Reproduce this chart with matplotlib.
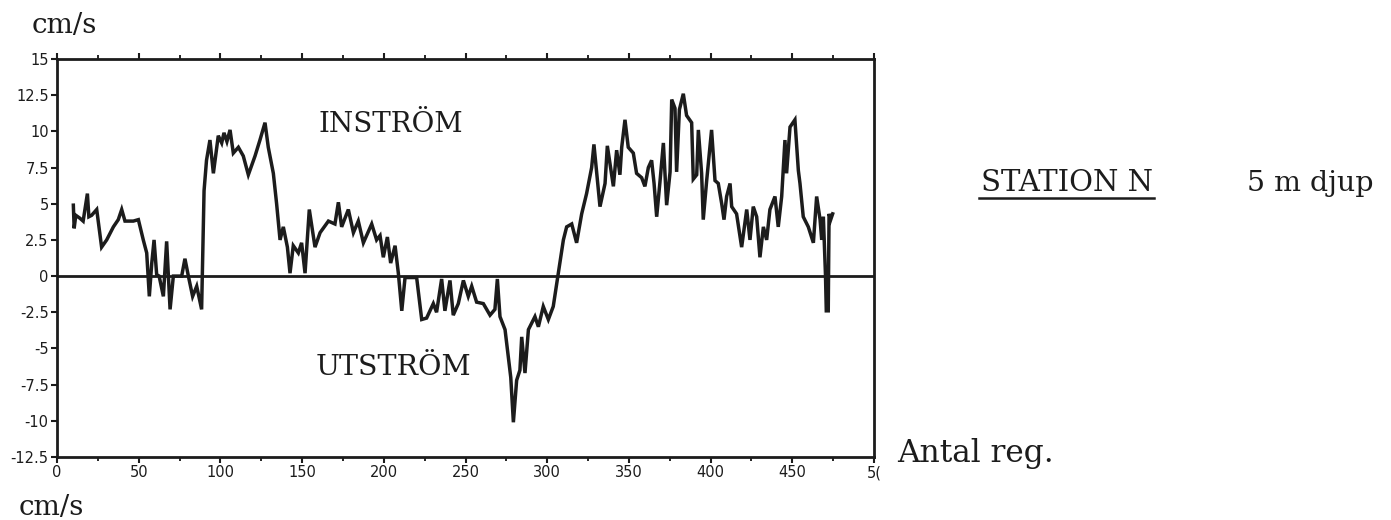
import matplotlib
matplotlib.use("Agg")
import matplotlib.pyplot as plt
from matplotlib.lines import Line2D
import numpy as np

# ---- data ----
antal_reg = [10.0, 10.5, 11.5, 14, 16, 18.6, 19.5, 21.2, 24.3, 27.3, 30.4, 34.5, 37.5, 39.6, 41.6,
             46.7, 49.8, 52.8, 54.9, 56.5, 58.0, 59.4, 61.0, 62.5, 65.1, 67.1, 69.2, 71.2, 76.3,
             78.3, 80.4, 83.0, 85.5, 88.5, 90.0, 91.5, 93.6, 95.7, 98.7, 100.8, 102.2, 104,
             105.9, 107.9, 111.0, 114.0, 117.1, 121.2, 124.2, 127.3, 129.3, 132.4, 134.4, 136.5,
             138.5, 141.0, 142.6, 144.6, 147.7, 149.7, 151.8, 154.4, 157.9, 161.0, 166.1, 170.1,
             172.2, 174.2, 178.3, 181.4, 184.4, 187.5, 192.6, 195.6, 197.7, 199.7, 202.2, 204.2,
             206.9, 208.9, 211.0, 213.0, 220.1, 223.2, 226.2, 230.3, 232.3, 235.4, 237.4, 240.5,
             242.5, 245.6, 248.7, 251.7, 253.8, 256.8, 260.9, 265.0, 268.0, 269.5, 271.1, 274.2,
             276.2, 277.7, 279.3, 281.3, 283.3, 284.4, 286.4, 288.5, 292.5, 294.6, 297.6, 300.7,
             303.7, 306.8, 309.9, 311.9, 315, 318.0, 321.1, 324.1, 327.2, 328.6, 330.3, 332.3,
             335.4, 336.8, 338.4, 340.5, 342.5, 344.5, 345.6, 347.6, 349.6, 352.7, 354.7, 357.8,
             359.8, 361.9, 363.9, 365.4, 367.0, 369.0, 371.1, 373.1, 375.2, 376.2, 378.2, 379.2,
             380.9, 383.3, 385.3, 388.4, 389.4, 391.5, 392.5, 394.5, 395.5, 397.6, 400.6, 402.7,
             404.7, 406.8, 408.2, 409.8, 411.9, 412.9, 415.9, 419.0, 422.1, 424.1, 426.1, 428.2,
             430.2, 432.3, 434.3, 436.3, 439.4, 441.4, 443.5, 445.5, 446.5, 448.6, 451.6, 453.7,
             454.7, 456.7, 459.8, 462.9, 464.9, 467.0, 468.0, 469.0, 470.3, 470.8, 472.0, 472.5,
             473.5, 474.7]
speed = [4.9, 3.3, 4.2, 4.0, 3.8, 5.7, 4.1, 4.2, 4.6, 2.0, 2.5, 3.4, 3.9, 4.6, 3.8,
         3.8, 3.9, 2.5, 1.6, -1.4, 0.9, 2.5, 0.1, 0.0, -1.4, 2.4, -2.3, 0.0, 0.0,
         1.2, 0.0, -1.4, -0.7, -2.3, 5.9, 8.0, 9.4, 7.1, 9.7, 9.2, 9.9, 9.3,
         10.1, 8.5, 8.9, 8.3, 7.0, 8.3, 9.4, 10.6, 8.9, 7.1, 5.0, 2.5,
         3.4, 2.0, 0.2, 2.1, 1.6, 2.3, 0.2, 4.6, 2.0, 3.0, 3.8, 3.6,
         5.1, 3.4, 4.6, 3.0, 3.8, 2.3, 3.6, 2.5, 2.8, 1.3, 2.7, 0.9,
         2.1, 0.2, -2.4, -0.1, -0.1, -3.0, -2.9, -1.9, -2.5, -0.2, -2.4, -0.3,
         -2.7, -1.9, -0.3, -1.4, -0.7, -1.8, -1.9, -2.7, -2.3, -0.2, -2.8, -3.7,
         -5.6, -7.0, -10.1, -7.2, -6.5, -4.2, -6.7, -3.7, -2.8, -3.5, -2.1, -3.0,
         -2.1, 0.2, 2.5, 3.4, 3.6, 2.3, 4.3, 5.7, 7.5, 9.1, 7.1, 4.8,
         6.4, 9.0, 7.8, 6.2, 8.7, 7.0, 8.9, 10.8, 8.9, 8.5, 7.1, 6.8,
         6.2, 7.5, 8.0, 6.4, 4.1, 6.5, 9.2, 4.9, 7.2, 12.2, 11.6, 7.2,
         11.5, 12.6, 11.1, 10.6, 6.7, 7.0, 10.1, 7.1, 3.9, 6.6, 10.1, 6.6,
         6.4, 5.0, 3.9, 5.5, 6.4, 4.8, 4.3, 2.0, 4.6, 2.5, 4.8, 4.1,
         1.3, 3.4, 2.5, 4.6, 5.5, 3.4, 5.5, 9.4, 7.1, 10.3, 10.8, 7.3,
         6.4, 4.1, 3.4, 2.3, 5.5, 3.9, 2.5, 4.1, 0.1, -2.4, -2.4, 4.3,
         3.9, 4.3]

y_ticks = [15, 12.5, 10, 7.5, 5, 2.5, 0, -2.5, -5, -7.5, -10, -12.5]
y_tick_labels = ["15", "12.5", "10", "7.5", "5", "2.5", "0", "-2.5", "-5", "-7.5", "-10", "-12.5"]
x_ticks = [0, 50, 100, 150, 200, 250, 300, 350, 400, 450, 500]
x_tick_labels = ["0", "50", "100", "150", "200", "250", "300", "350", "400", "450", "5("]

W, H = 1391, 520
INK = "#1c1c1c"
fig = plt.figure(figsize=(W / 100, H / 100), dpi=100)
fig.patch.set_facecolor("white")

L, R, T, B = 57, 874, 59, 457
ax = fig.add_axes([L / W, 1 - B / H, (R - L) / W, (B - T) / H])
ax.plot(antal_reg, speed, color=INK, lw=2.5, solid_joinstyle="miter")
ax.axhline(0, color=INK, lw=2.0)
ax.set_xlim(0, 500)
ax.set_ylim(-12.5, 15)

for s in ax.spines.values():
    s.set_linewidth(2.0)
    s.set_color(INK)

tick_font = dict(family="DejaVu Sans", size=10.5)
ax.set_yticks(y_ticks)
ax.set_yticklabels(y_tick_labels, fontdict=tick_font, color=INK)
ax.set_xticks(x_ticks)
ax.set_xticklabels(x_tick_labels, fontdict=tick_font, color=INK)
ax.tick_params(axis="both", direction="out", length=4, width=1.5, color=INK, pad=2)
ax.set_xticks(np.arange(25, 500, 50), minor=True)
ax.tick_params(axis="x", which="minor", length=3, width=1.2, top=True, bottom=True, direction="out")
ax.tick_params(axis="x", which="major", top=True, length=4)

serif = "DejaVu Serif"

def ftext(px, py, s, size, **kw):
    fig.text(px / W, 1 - py / H, s, fontsize=size, family=serif, color=INK,
             ha="left", va="baseline", **kw)

ftext(32, 33, "cm/s", 20)
ftext(19, 515, "cm/s", 20)
ftext(319, 132, "INSTRÖM", 20)
ftext(316, 375, "UTSTRÖM", 20.5)
ftext(981, 191, "STATION N", 21)
ftext(1247, 191, "5 m djup", 20.5)
ftext(897, 462, "Antal reg.", 22.5)

fig.add_artist(Line2D([979 / W, 1154 / W], [1 - 198 / H, 1 - 198 / H], color=INK, lw=1.8))

fig.savefig("out.png", dpi=100, facecolor="white")
